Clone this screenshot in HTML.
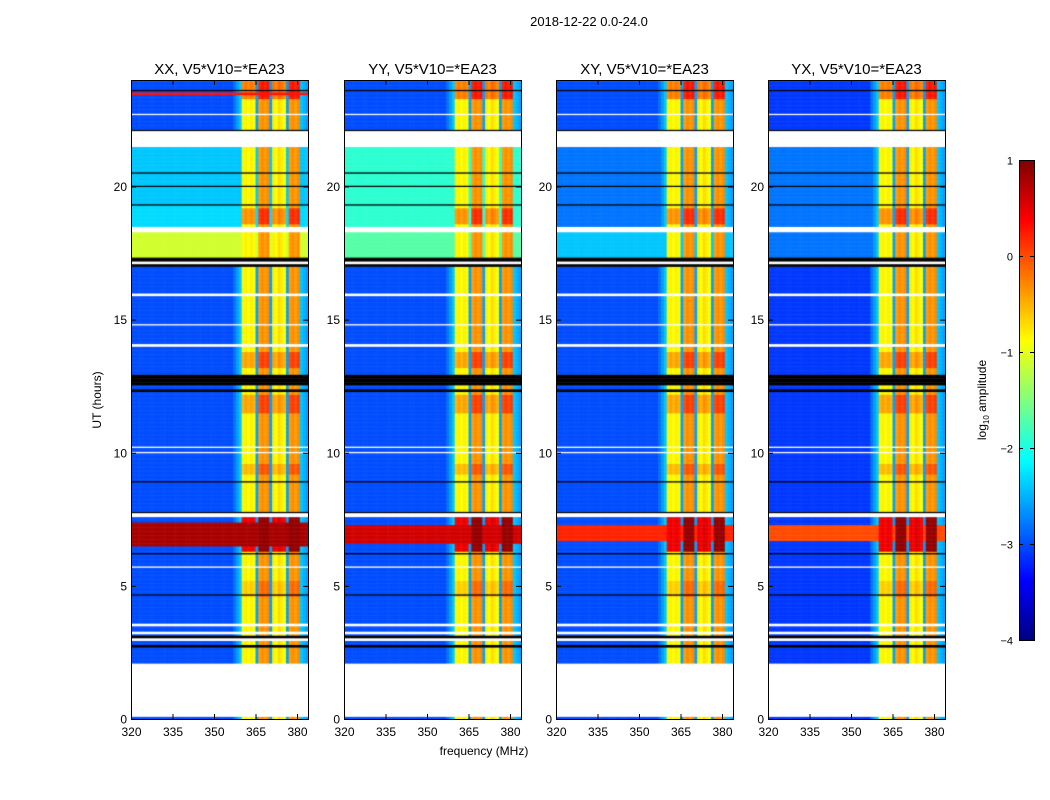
<!DOCTYPE html>
<html><head><meta charset="utf-8"><style>
body{margin:0;background:#fff;width:1050px;height:800px;overflow:hidden;position:relative;font-family:"Liberation Sans",sans-serif}
canvas{position:absolute}
svg{position:absolute;left:0;top:0}
</style></head><body>
<canvas id="c0" width="177" height="639" style="left:131px;top:80px"></canvas>
<canvas id="c1" width="177" height="639" style="left:344px;top:80px"></canvas>
<canvas id="c2" width="177" height="639" style="left:556px;top:80px"></canvas>
<canvas id="c3" width="177" height="639" style="left:768px;top:80px"></canvas>
<canvas id="cb" width="15" height="480" style="left:1019px;top:160px"></canvas>
<svg id="ov" width="1050" height="800"></svg>
<script>
const titles=["XX, V5*V10=*EA23","YY, V5*V10=*EA23","XY, V5*V10=*EA23","YX, V5*V10=*EA23"];
const xTicks=[320,335,350,365,380];
const yTicks=[0,5,10,15,20];
const cbTicks=[1,0,-1,-2,-3,-4];
// frequency channel levels (log10 amp), 1 MHz channels 320..383
const colLevel=[-9,-9,-9,-9,-9,-9,-9,-9,-9,-9,-9,-9,-9,-9,-9,-9,-9,-9,-9,-9,-9,-9,-9,-9,-9,-9,-9,-9,-9,-9,-9,-9,-9,-9,-9,-9,-9,-2.8,-2.6,-2.4,
 -0.9,-0.8,-0.9,-0.8,-0.9,-2.6,-0.4,-0.3,-0.4,-0.3,-2.6,-0.8,-0.9,-0.7,-0.8,-0.9,-2.6,-0.4,-0.3,-0.4,-0.3,-2.4,-2.5,-2.6];
// common gaps [start hr, end hr, kind]
const gaps=[[0.1,2.1,'w'],[2.72,2.8,'k'],[2.95,3.05,'w'],[3.05,3.15,'k'],[3.2,3.3,'w'],[3.52,3.6,'w'],[4.65,4.7,'k'],[5.7,5.75,'w'],[6.18,6.24,'k'],
 [7.6,7.75,'w'],[7.75,7.82,'k'],[8.88,8.93,'k'],[10.0,10.05,'w'],[10.2,10.25,'w'],[12.3,12.4,'k'],[12.55,12.95,'k'],[14.0,14.1,'w'],[14.8,14.85,'w'],
 [15.9,15.98,'w'],[17.0,17.1,'k'],[17.1,17.2,'w'],[17.2,17.35,'k'],[18.3,18.5,'w'],[19.3,19.35,'k'],[20.0,20.05,'k'],[20.5,20.55,'k'],
 [21.5,22.1,'w'],[22.1,22.17,'k'],[22.7,22.75,'w'],[23.6,23.65,'k']];
// per-panel row background segments [start,end,level]
const bgXX=[[0,24,-3.0],[17.35,18.3,-1.1],[18.5,19.3,-2.3],[19.3,21.5,-2.4],[6.5,7.4,0.8],[23.45,23.55,0.3]];
const bgYY=[[0,24,-3.0],[17.35,18.3,-1.7],[18.5,21.5,-1.9],[6.6,7.3,0.6]];
const bgXY=[[0,24,-3.0],[17.35,18.3,-2.4],[18.5,21.5,-2.8],[6.7,7.3,0.2]];
const bgYX=[[0,24,-3.1],[17.35,18.3,-2.8],[18.5,21.5,-2.8],[6.7,7.3,0.0]];
const panelsBg=[bgXX,bgYY,bgXY,bgYX];
// RFI boost rows [start,end,boost]
const rfiBoost=[[18.6,19.2,0.5],[6.3,7.8,1.3],[13.2,13.8,0.4],[23.3,24,0.6],[9.2,9.6,0.3],[11.5,12.2,0.4],[4.6,5.2,0.2]];

const X0s=[131,344,556,768],W=177,Y0=80,Y1=719;
const xs=f=>(f-320)*2.767;
const ys=h=>(24-h)*26.625;
function jet(v){let t=(v+4)/5;t=Math.max(0,Math.min(1,t));const c=x=>Math.round(255*Math.max(0,Math.min(1,1.5-Math.abs(x))));return `rgb(${c(4*t-3)},${c(4*t-2)},${c(4*t-1)})`;}
function segVal(segs,h){let v=null;for(const s of segs)if(h>=s[0]&&h<s[1])v=s[2];return v;}
const dH=0.05;
for(let p=0;p<4;p++){
  const ctx=document.getElementById('c'+p).getContext('2d');
  for(let h=0;h<24;h+=dH){
    const hm=h+dH/2;
    const g=segVal(gaps,hm);
    const y0=ys(h+dH),y1=ys(h);
    if(g){ctx.fillStyle=g==='w'?'#fff':'#000';ctx.fillRect(0,y0,W,y1-y0+0.5);continue;}
    const bg=segVal(panelsBg[p],hm);
    const b=segVal(rfiBoost,hm)||0;
    for(let i=0;i<colLevel.length;i++){
      let c=colLevel[i];if(c>-2)c=Math.min(0.9,c+b);
      const v=Math.max(bg,c);
      ctx.fillStyle=jet(v);
      ctx.fillRect(xs(320+i),y0,xs(321+i)-xs(320+i)+0.5,y1-y0+0.5);
    }
  }
}
const cb=document.getElementById('cb').getContext('2d');
for(let i=0;i<480;i++){cb.fillStyle=jet(1-i*5/480);cb.fillRect(0,i,15,1);}
const NS='http://www.w3.org/2000/svg',ov=document.getElementById('ov');
function el(t,a,txt){const e=document.createElementNS(NS,t);for(const k in a)e.setAttribute(k,a[k]);if(txt!==undefined)e.textContent=txt;ov.appendChild(e);return e;}
for(let p=0;p<4;p++){
  const X0=X0s[p];
  const fr=el('rect',{x:X0+0.5,y:Y0+0.5,width:W,height:Y1-Y0,fill:'none',stroke:'#000','stroke-width':1});
  
  
  const tt=el('text',{x:X0+W/2,y:74,'text-anchor':'middle','font-size':15},titles[p]);
  
  
  for(const f of xTicks){const x=X0+xs(f)+0.5;
    el('line',{x1:x,x2:x,y1:Y1,y2:Y1-5,stroke:'#000'});el('line',{x1:x,x2:x,y1:Y0,y2:Y0+5,stroke:'#000'});
    const t=el('text',{x:x,y:Y1+17,'text-anchor':'middle','font-size':12},f);
    
    }
  for(const h of yTicks){const y=Y0+ys(h)+0.5;
    el('line',{x1:X0,x2:X0+5,y1:y,y2:y,stroke:'#000'});el('line',{x1:X0+W,x2:X0+W-5,y1:y,y2:y,stroke:'#000'});
    const t=el('text',{x:X0-4,y:y+4,'text-anchor':'end','font-size':12},h);
    
    }
}
const st=el('text',{x:589,y:26,'text-anchor':'middle','font-size':13},'2018-12-22 0.0-24.0');


const xl=el('text',{x:484,y:755,'text-anchor':'middle','font-size':12},'frequency (MHz)');


const yl=el('text',{x:0,y:0,'text-anchor':'middle','font-size':12,transform:'translate(101,400) rotate(-90)'},'UT (hours)');


el('rect',{x:1019.5,y:160.5,width:15,height:480,fill:'none',stroke:'#000'});
cbTicks.forEach(v=>{const y=160+(1-v)*96+0.5;
  el('line',{x1:1019,x2:1023,y1:y,y2:y,stroke:'#000'});el('line',{x1:1034,x2:1030,y1:y,y2:y,stroke:'#000'});
  const t=el('text',{x:1013,y:y+4,'text-anchor':'end','font-size':11},v<0?'\u2212'+(-v):v);
  
  });
const cl=el('text',{x:0,y:0,'text-anchor':'middle','font-size':12,transform:'translate(986,400) rotate(-90)'});


cl.innerHTML='log<tspan font-size="8" dy="3">10</tspan><tspan dy="-3"> amplitude</tspan>';
</script>
</body></html>
